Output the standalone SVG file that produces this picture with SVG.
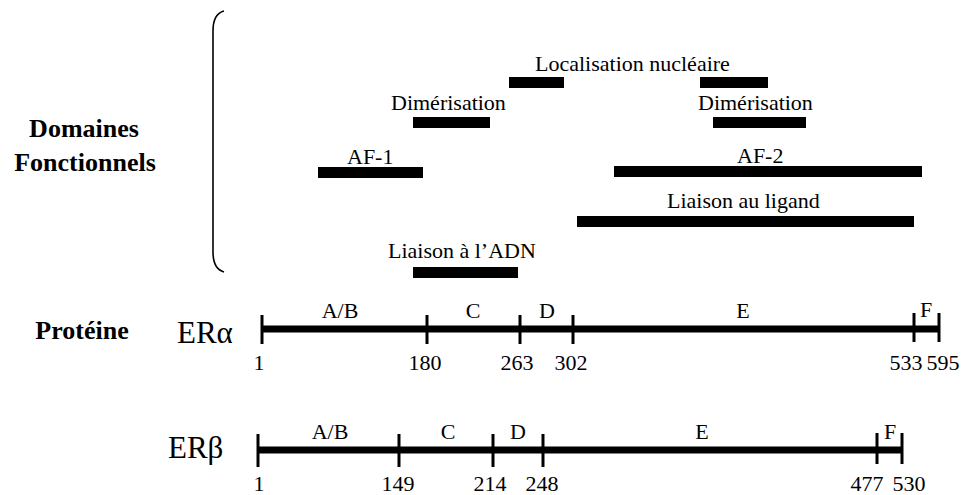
<svg xmlns="http://www.w3.org/2000/svg" width="963" height="495" viewBox="0 0 963 495" font-family="'Liberation Serif', 'Times New Roman', serif">
<style>
.lbl{font-family:"Liberation Serif","Times New Roman",serif;font-size:22px;fill:#000}
.num{font-family:"Liberation Serif","Times New Roman",serif;font-size:22px;text-anchor:middle;fill:#000}
.head{font-family:"Liberation Serif","Times New Roman",serif;font-size:26px;font-weight:bold;text-anchor:middle;fill:#000}
.er{font-family:"Liberation Serif","Times New Roman",serif;font-size:31px;fill:#000}
.bar{fill:#000}
.axis{stroke:#000;stroke-width:7;fill:none}
.tick{stroke:#000;stroke-width:3;fill:none}
.brace{stroke:#000;stroke-width:1.6;fill:none}
</style>
<rect width="963" height="495" fill="#fff"/>

<g id="titles">
<text class="head" x="84" y="137">Domaines</text>
<text class="head" x="85" y="171">Fonctionnels</text>
<text class="head" x="82" y="339">Protéine</text>
</g>

<g id="bracket">
<path class="brace" d="M224,11 C216,13 213,20 213,31 L213,252 C213,263 217,270 224,272"/>
</g>

<g id="localisation">
<text class="lbl" x="535" y="71">Localisation nucléaire</text>
<rect class="bar" x="509" y="77" width="55" height="11"/>
<rect class="bar" x="700" y="77" width="68" height="11"/>
</g>
<g id="dimerisation-1">
<text class="lbl" x="391" y="110">Dimérisation</text>
<rect class="bar" x="413" y="117" width="77" height="11"/>
</g>
<g id="dimerisation-2">
<text class="lbl" x="698" y="110">Dimérisation</text>
<rect class="bar" x="713" y="117" width="93" height="11"/>
</g>
<g id="af1">
<text class="lbl" x="347" y="164">AF-1</text>
<rect class="bar" x="318" y="167" width="105" height="11"/>
</g>
<g id="af2">
<text class="lbl" x="737" y="163">AF-2</text>
<rect class="bar" x="614" y="166" width="308" height="11"/>
</g>
<g id="ligand">
<text class="lbl" x="667" y="208">Liaison au ligand</text>
<rect class="bar" x="577" y="216" width="337" height="11"/>
</g>
<g id="adn">
<text class="lbl" x="388" y="258">Liaison à l’ADN</text>
<rect class="bar" x="413" y="267" width="105" height="11"/>
</g>

<g id="er-alpha">
<text class="er" x="177" y="343">ERα</text>
<line class="axis" x1="262" y1="329" x2="939" y2="329"/>
<line class="tick" x1="262" y1="315" x2="262" y2="344"/>
<line class="tick" x1="427" y1="315" x2="427" y2="344"/>
<line class="tick" x1="520" y1="315" x2="520" y2="344"/>
<line class="tick" x1="573" y1="315" x2="573" y2="344"/>
<line class="tick" x1="914" y1="313" x2="914" y2="342"/>
<line class="tick" x1="939" y1="313" x2="939" y2="342"/>
<text class="num" x="340" y="318">A/B</text>
<text class="num" x="473" y="318">C</text>
<text class="num" x="547" y="318">D</text>
<text class="num" x="743" y="318">E</text>
<text class="num" x="926" y="317">F</text>
<text class="num" x="259" y="370">1</text>
<text class="num" x="425" y="370">180</text>
<text class="num" x="517" y="370">263</text>
<text class="num" x="571" y="370">302</text>
<text class="num" x="906" y="370">533</text>
<text class="num" x="943" y="370">595</text>
</g>

<g id="er-beta">
<text class="er" x="168" y="458">ERβ</text>
<line class="axis" x1="257" y1="450" x2="902" y2="450"/>
<line class="tick" x1="258" y1="434" x2="258" y2="467"/>
<line class="tick" x1="399" y1="434" x2="399" y2="467"/>
<line class="tick" x1="493" y1="434" x2="493" y2="467"/>
<line class="tick" x1="543" y1="434" x2="543" y2="467"/>
<line class="tick" x1="877" y1="433" x2="877" y2="464"/>
<line class="tick" x1="902" y1="433" x2="902" y2="464"/>
<text class="num" x="330" y="439">A/B</text>
<text class="num" x="448" y="439">C</text>
<text class="num" x="518" y="439">D</text>
<text class="num" x="702" y="439">E</text>
<text class="num" x="890" y="439">F</text>
<text class="num" x="259" y="491">1</text>
<text class="num" x="398" y="491">149</text>
<text class="num" x="490" y="491">214</text>
<text class="num" x="542" y="491">248</text>
<text class="num" x="867" y="491">477</text>
<text class="num" x="909" y="491">530</text>
</g>
</svg>
